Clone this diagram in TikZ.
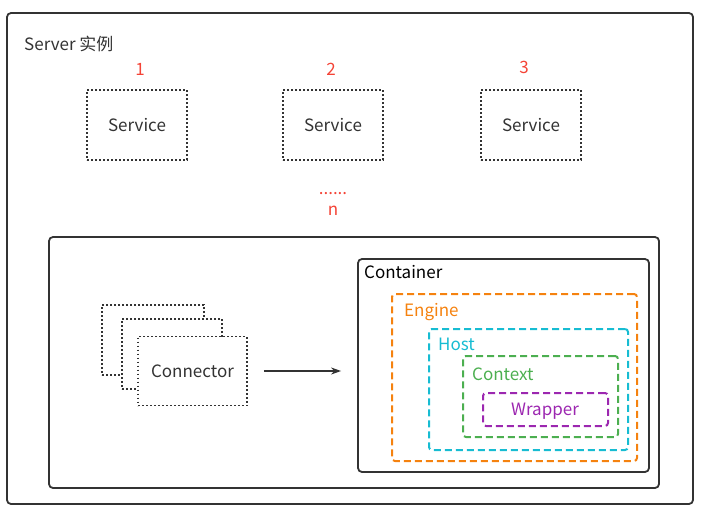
\documentclass[tikz,border=0pt]{standalone}
\usepackage{fontspec}
\setmainfont{Noto Sans CJK SC}
\usepackage{xcolor}
\definecolor{mydark}{HTML}{333333}
\definecolor{myred}{HTML}{F44336}
\definecolor{myorange}{HTML}{F5820F}
\definecolor{mycyan}{HTML}{17BCD2}
\definecolor{mygreen}{HTML}{4CAF50}
\definecolor{mypurple}{HTML}{9C27B0}
\usetikzlibrary{positioning, arrows.meta}

\begin{document}
\begin{tikzpicture}[x=1pt, y=-1pt, font=\fontsize{17}{20}\selectfont,
    frame/.style = {draw=mydark, line width=1.8pt, rounded corners=4pt, inner sep=0},
    svc/.style = {draw=mydark, line width=1.8pt, dash pattern=on 1.8pt off 2.2pt, fill=white, text=mydark, minimum width=100pt, minimum height=70pt},
    layer/.style = {line width=2pt, dash pattern=on 7pt off 4pt, rounded corners=3pt, inner sep=0},
    num/.style = {text=myred, inner sep=0},
    lbl/.style = {anchor=west, inner sep=0}]
    \useasboundingbox (0,0) rectangle (705,517);
    % server
    \node[frame, minimum width=686pt, minimum height=491pt] (server) at (350,258.5) {};
    \node[lbl, text=mydark] (servertitle) at (24,44) {Server 实例};
    \node[svc] (s1) at (137,125) {Service};
    \node[svc] (s2) at (333,125) {Service};
    \node[svc] (s3) at (531,125) {Service};
    \node[num] (n1) at (140,69) {1};
    \node[num] (n2) at (331,69) {2};
    \node[num] (n3) at (524,67) {3};
    \node[num, anchor=base] (dots) at (333,194) {......};
    \node[num] (nn) at (333,211) {n};
    % service inside
    \node[frame, minimum width=610pt, minimum height=251pt] (svcbox) at (354,362.5) {};
    \node[svc, minimum width=102pt] (c1) at (153,340) {};
    \node[svc] (c2) at (172,354) {};
    \node[svc, minimum width=109pt, minimum height=69pt] (c3) at (192.5,371) {Connector};
    \node[frame, minimum width=291pt, minimum height=213pt] (container) at (503.5,365.5) {};
    \node[lbl, text=black] (containertitle) at (364,272) {Container};
    \node[layer, draw=myorange, minimum width=245pt, minimum height=167pt] (engine) at (514.5,377.5) {};
    \node[lbl, text=myorange] (enginetitle) at (404,312.5) {Engine};
    \node[layer, draw=mycyan, minimum width=199pt, minimum height=121pt] (host) at (528.5,389.5) {};
    \node[lbl, text=mycyan] (hosttitle) at (438,344) {Host};
    \node[layer, draw=mygreen, minimum width=155pt, minimum height=81pt] (context) at (540.5,396.5) {};
    \node[lbl, text=mygreen] (contexttitle) at (472,374) {Context};
    \node[layer, draw=mypurple, minimum width=125pt, minimum height=33pt] (wrapper) at (545.5,409.5) {};
    \node[text=mypurple, inner sep=0] (wrappertitle) at (545,411.5) {Wrapper};
    \draw[mydark, line width=1.6pt, -{Stealth[length=10pt, width=7pt]}, shorten <=16pt, shorten >=16pt]
        (c3.east) -- (c3.east -| container.west);
\end{tikzpicture}
\end{document}
